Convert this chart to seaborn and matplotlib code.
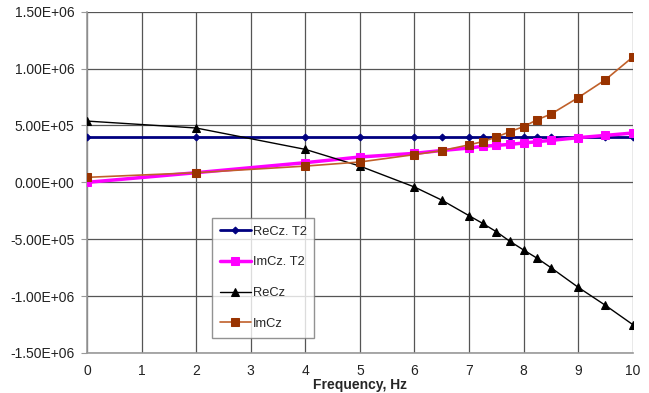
import numpy as np
import pandas as pd
import seaborn as sns
import matplotlib.pyplot as plt
from matplotlib.ticker import FuncFormatter

freq = [0, 2, 4, 5, 6, 6.5, 7, 7.25, 7.5, 7.75, 8, 8.25, 8.5, 9, 9.5, 10]
re_cz_t2 = [4.0e5] * 16
im_cz_t2 = [0.0, 0.085e6, 0.173e6, 0.223e6, 0.255e6, 0.28e6, 0.302e6, 0.317e6, 0.325e6,
            0.334e6, 0.346e6, 0.358e6, 0.369e6, 0.393e6, 0.413e6, 0.434e6]
re_cz = [0.539e6, 0.478e6, 0.29e6, 0.143e6, -0.041e6, -0.156e6, -0.293e6, -0.361e6, -0.434e6,
         -0.519e6, -0.595e6, -0.668e6, -0.75e6, -0.923e6, -1.082e6, -1.251e6]
im_cz = [0.044e6, 0.085e6, 0.143e6, 0.179e6, 0.244e6, 0.279e6, 0.33e6, 0.358e6, 0.398e6,
         0.446e6, 0.49e6, 0.551e6, 0.60e6, 0.745e6, 0.903e6, 1.102e6]
series_names = ["ReCz. T2", "ImCz. T2", "ReCz", "ImCz"]

sns.set_style("white")
plt.rcParams['font.family'] = ['Liberation Sans', 'DejaVu Sans']

fig = plt.figure(figsize=(6.49, 3.93), dpi=100)
ax = fig.add_axes([0.134, 0.102, 0.841, 0.868])

styles = {
    "ReCz. T2": dict(color="#000080", marker="D", markersize=3.5, linewidth=2.0, mfc="#000080", mec="#000080", zorder=3),
    "ImCz. T2": dict(color="#FF00FF", marker="s", markersize=6, linewidth=2.5, mfc="#FF00FF", mec="#FF00FF", zorder=4),
    "ReCz": dict(color="black", marker="^", markersize=6, linewidth=1.0, mfc="black", mec="black", zorder=5),
    "ImCz": dict(color="#C0602A", marker="s", markersize=6, linewidth=1.2, mfc="#993300", mec="#993300", zorder=5),
}
values = [re_cz_t2, im_cz_t2, re_cz, im_cz]
for name, vals in zip(series_names, values):
    st = styles[name]
    sns.lineplot(x=freq, y=vals, ax=ax, label=name, color=st["color"], marker=st["marker"],
                 markersize=st["markersize"], linewidth=st["linewidth"],
                 markerfacecolor=st["mfc"], markeredgecolor=st["mec"], zorder=st["zorder"])

ax.set_xlim(0, 10)
ax.set_ylim(-1.5e6, 1.5e6)
ax.set_xticks(range(0, 11))
ax.set_yticks(np.arange(-1.5e6, 1.51e6, 0.5e6))
ax.yaxis.set_major_formatter(FuncFormatter(lambda v, p: f"{v:.2E}"))
ax.grid(True, color="#555555", linewidth=0.9)
for s in ax.spines.values():
    s.set_color("#999999")
    s.set_linewidth(1.2)
ax.spines['top'].set_visible(False)
ax.spines['right'].set_visible(False)
ax.tick_params(axis='both', labelsize=10, colors="#222222", length=3, pad=5)
ax.tick_params(axis='y', left=True, length=4, color="#999999")
ax.set_xlabel("Frequency, Hz", fontsize=10, fontweight="bold", labelpad=0)
ax.set_ylabel("")

leg = ax.legend(loc="upper left", bbox_to_anchor=(0.229, 0.396), frameon=True, fancybox=False,
                edgecolor="#777777", fontsize=9.3, labelspacing=1.45, handlelength=2.4,
                handletextpad=0.15, borderpad=0.6, borderaxespad=0)
leg.get_frame().set_linewidth(1.0)

fig.savefig("out.png", dpi=100, facecolor="white")
